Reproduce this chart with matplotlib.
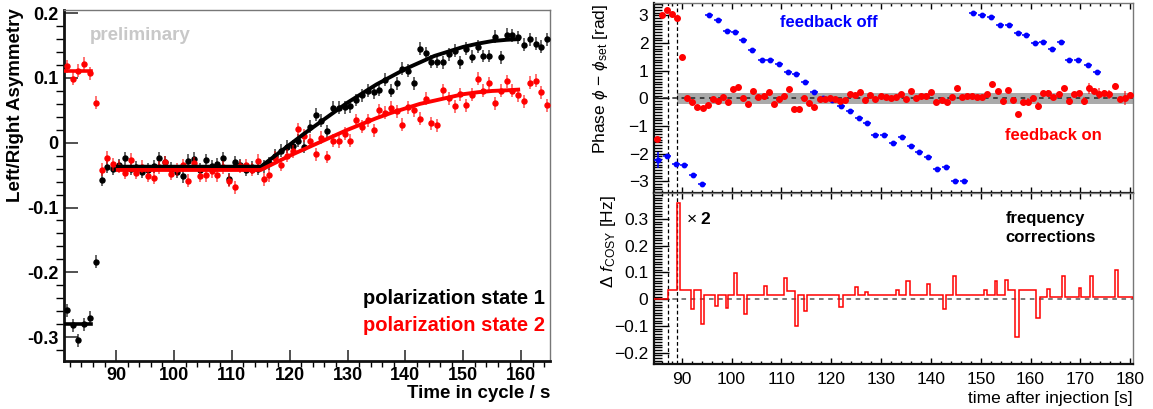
import numpy as np
import matplotlib
matplotlib.use("Agg")
import matplotlib.pyplot as plt
from matplotlib.ticker import MultipleLocator, FuncFormatter

plt.rcParams['font.family'] = ['Liberation Sans', 'DejaVu Sans']
plt.rcParams['mathtext.fontset'] = 'custom'
plt.rcParams['mathtext.rm'] = 'Liberation Sans'
plt.rcParams['mathtext.it'] = 'Liberation Sans:italic'
plt.rcParams['mathtext.bf'] = 'Liberation Sans:bold'

# ---------------- left panel: asymmetry vs time in cycle ----------------
t_cycle = np.arange(81.5, 165.0, 1.0)
asym_state1 = [
    -0.259, -0.282, -0.305, -0.280, -0.270, -0.184, -0.057, -0.037, -0.040, -0.035,
    -0.024, -0.040, -0.038, -0.045, -0.042, -0.036, -0.024, -0.030, -0.040, -0.045,
    -0.052, -0.028, -0.025, -0.042, -0.027, -0.036, -0.033, -0.024, -0.056, -0.030,
    -0.035, -0.042, -0.038, -0.040, -0.036, -0.032, -0.020, -0.012, -0.006, -0.005,
    0.003, -0.006, 0.025, 0.043, 0.034, 0.018, 0.054, 0.054, 0.055, 0.056,
    0.066, 0.073, 0.080, 0.078, 0.082, 0.097, 0.080, 0.092, 0.114, 0.111,
    0.092, 0.145, 0.138, 0.125, 0.125, 0.124, 0.137, 0.142, 0.124, 0.145,
    0.133, 0.148, 0.134, 0.134, 0.164, 0.132, 0.167, 0.166, 0.163, 0.151,
    0.160, 0.153, 0.148, 0.160]
asym_state2 = [
    0.118, 0.099, 0.111, 0.122, 0.107, 0.062, -0.042, -0.023, -0.033, -0.037,
    -0.046, -0.026, -0.046, -0.037, -0.051, -0.054, -0.038, -0.030, -0.048, -0.041,
    -0.035, -0.059, -0.032, -0.051, -0.050, -0.044, -0.050, -0.038, -0.059, -0.069,
    -0.036, -0.035, -0.042, -0.028, -0.056, -0.050, -0.023, -0.034, -0.020, -0.013,
    0.021, 0.011, 0.003, -0.018, 0.008, -0.022, 0.003, 0.002, 0.014, 0.003,
    0.035, 0.025, 0.035, 0.019, 0.050, 0.046, 0.054, 0.049, 0.028, 0.055,
    0.050, 0.037, 0.068, 0.030, 0.027, 0.081, 0.069, 0.056, 0.075, 0.058,
    0.074, 0.099, 0.080, 0.092, 0.061, 0.080, 0.095, 0.080, 0.073, 0.064,
    0.093, 0.096, 0.078, 0.058]
asym_err = 0.010

# fitted curves
pre_t = [81.0, 85.6]
pre_state1 = [-0.280, -0.280]
pre_state2 = [0.111, 0.111]
fit_t = [90.3, 115.0, 117.5, 120.0, 122.5, 125.0, 127.5, 130.0, 132.5, 135.0, 137.5,
         140.0, 142.5, 145.0, 147.5, 150.0, 152.5, 155.0, 157.5, 159.5]
fit_state1 = [-0.037, -0.037, -0.020, -0.003, 0.014, 0.030, 0.046, 0.062, 0.076, 0.090,
              0.102, 0.114, 0.124, 0.134, 0.141, 0.148, 0.153, 0.157, 0.159, 0.160]
fit_state2 = [-0.042, -0.042, -0.031, -0.020, -0.010, 0.000, 0.010, 0.020, 0.029, 0.038,
              0.046, 0.053, 0.060, 0.065, 0.070, 0.075, 0.078, 0.080, 0.081, 0.082]

# ---------------- right panel: phase feedback ----------------
t_on = np.linspace(85.0, 179.9, 94)
phase_on = [
    -1.48, 3.01, 3.21, 3.04, 2.89, 1.50, 0.00, -0.12, -0.30, -0.36,
    -0.24, -0.04, -0.09, 0.06, -0.12, 0.33, 0.42, 0.00, -0.21, 0.27,
    0.04, 0.08, 0.22, -0.21, -0.04, 0.10, 0.34, -0.40, -0.40, 0.00,
    -0.16, -0.30, -0.04, -0.01, 0.00, -0.04, -0.09, -0.06, 0.14, 0.12,
    0.21, -0.06, 0.12, -0.04, 0.10, 0.04,
    0.00, 0.04, 0.14, -0.01, 0.27, 0.00, 0.08, 0.08, 0.24, -0.12,
    -0.06, -0.13, 0.05, 0.36, 0.05, 0.10, 0.10, 0.04, 0.05, 0.14,
    0.52, 0.27, -0.10, 0.30, -0.06, -0.58, -0.12, -0.12, 0.02, -0.28,
    0.18, 0.18, 0.04, 0.14, 0.36, -0.10, 0.16, 0.18, -0.10, 0.36,
    0.26, 0.16, 0.20, 0.14, 0.44, -0.04, 0.00, 0.12]
phase_on_err = [0.05] * 70 + [0.08, 0.1, 0.06, 0.12, 0.1, 0.15, 0.1, 0.12, 0.06, 0.1,
                              0.1, 0.1, 0.08, 0.1, 0.15, 0.2, 0.12, 0.2, 0.1, 0.15,
                              0.12, 0.1, 0.25, 0.1]

t_off = [85.3, 87.1, 88.9, 90.5, 92.2, 94.0, 95.5, 97.3, 99.0, 100.7,
         102.4, 104.1, 106.1, 107.7, 109.6, 111.4, 112.9, 114.8, 116.6, 118.3,
         120.1, 121.9, 123.7, 125.5, 127.2, 128.8, 130.6, 132.4, 134.2, 136.0,
         137.7, 139.5, 141.3, 143.1, 144.9, 146.7, 148.4, 150.2, 152.1, 153.8,
         155.6, 157.4, 159.1, 160.8, 162.5, 164.3, 166.1, 167.8, 169.6, 171.5, 173.3]
phase_off = [-2.23, -2.08, -2.37, -2.43, -2.77, -3.10, 3.01, 2.83, 2.44, 2.40,
             2.10, 1.74, 1.40, 1.40, 1.24, 0.96, 0.88, 0.60, 0.24, 0.00,
             -0.06, -0.28, -0.45, -0.71, -0.88, -1.33, -1.33, -1.63, -1.42, -1.71,
             -1.96, -2.13, -2.56, -2.49, -2.99, -2.99, 3.10, 3.01, 2.95, 2.65,
             2.67, 2.38, 2.29, 2.01, 2.04, 1.77, 2.04, 1.40, 1.40, 1.20, 0.94]
phase_off_err = [0.3] + [0.05] * 50

# frequency corrections (step histogram)
freq_edges = [84.45, 87.33, 89.13, 89.67, 91.88, 92.55, 93.82, 94.49, 96.70, 97.37,
              98.84, 99.38, 100.58, 101.18, 102.59, 103.19, 106.61, 107.21, 110.55, 111.09,
              112.76, 113.30, 114.64, 115.24, 121.66, 122.27, 124.81, 125.35, 126.82, 127.29,
              133.05, 133.52, 135.06, 135.73, 139.21, 139.74, 142.42, 142.95, 144.43, 144.96,
              150.72, 151.25, 152.79, 153.33, 154.94, 155.47, 156.95, 157.61, 161.16, 161.83,
              163.30, 163.84, 166.31, 166.85, 169.66, 170.20, 171.87, 172.47, 177.02, 177.56,
              180.55]
freq_corr = [0.0, 0.035, 0.36, 0.035, -0.037, 0.035, -0.094, 0.016, -0.024, 0.016,
             -0.034, 0.016, 0.098, 0.016, -0.055, 0.016, 0.050, 0.016, 0.079, 0.030,
             -0.101, 0.016, -0.044, 0.016, -0.030, 0.016, 0.045, 0.016, 0.026, 0.016,
             0.035, 0.016, 0.069, 0.016, 0.058, 0.016, -0.038, 0.016, 0.088, 0.016,
             0.035, 0.016, 0.067, 0.016, 0.073, 0.033, -0.141, 0.033, -0.072, 0.010,
             0.039, 0.010, 0.088, 0.010, 0.041, 0.010, 0.088, 0.010, 0.108, 0.010]
feedback_start = [87.33, 89.13]

W, H = 1153, 409
fig = plt.figure(figsize=(W / 100, H / 100), dpi=100)


def frac(x0, y0, x1, y1):
    return [x0 / W, 1 - y1 / H, (x1 - x0) / W, (y1 - y0) / H]


def root_frame(ax, lw_main=1.8):
    for s in ['left', 'bottom']:
        ax.spines[s].set_linewidth(lw_main)
        ax.spines[s].set_color('#111111')
    for s in ['top', 'right']:
        ax.spines[s].set_linewidth(1.0)
        ax.spines[s].set_color('#777777')


def unicode_fmt(v, p):
    s = '%g' % round(v, 3)
    return s.replace('-', '\u2212')


# ---- left ----
ax = fig.add_axes(frac(64, 10, 550, 361))
ax.errorbar(t_cycle, asym_state1, yerr=asym_err, fmt='o', color='black', ms=3.6,
            ecolor=(0, 0, 0, 0.6), elinewidth=1.4, capsize=0, zorder=3)
ax.errorbar(t_cycle, asym_state2, yerr=asym_err, fmt='o', color='red', ms=3.6,
            ecolor=(1, 0, 0, 0.55), elinewidth=1.4, capsize=0, zorder=4)
ax.plot(pre_t, pre_state1, color='black', lw=2.6, zorder=5)
ax.plot(pre_t, pre_state2, color='red', lw=2.6, zorder=5)
ax.plot(fit_t, fit_state1, color='black', lw=2.8, zorder=5)
ax.plot(fit_t, fit_state2, color='red', lw=2.8, zorder=5)
ax.set_xlim(81, 165)
ax.set_ylim(-0.337, 0.205)
ax.xaxis.set_major_locator(MultipleLocator(10))
ax.xaxis.set_minor_locator(MultipleLocator(2))
ax.yaxis.set_major_locator(MultipleLocator(0.1))
ax.yaxis.set_minor_locator(MultipleLocator(0.02))
ax.yaxis.set_major_formatter(FuncFormatter(lambda v, p: '%g' % round(v, 3)))
ax.tick_params(direction='in', width=1.1, color='#222222', labelsize=13)
ax.tick_params(axis='y', which='major', length=10, pad=4)
ax.tick_params(axis='y', which='minor', length=5.5, width=1.0)
ax.tick_params(axis='x', which='major', length=8, pad=4)
ax.tick_params(axis='x', which='minor', length=4, width=1.0)
for lab in ax.get_xticklabels() + ax.get_yticklabels():
    lab.set_fontweight('bold')
root_frame(ax, 2.0)
ax.text(0.0535, 0.926, 'preliminary', transform=ax.transAxes, color='#c8c8c8',
        fontsize=13.5, fontweight='bold', ha='left', va='center')
ax.text(0.99, 0.177, 'polarization state 1', transform=ax.transAxes, color='black',
        fontsize=14.5, fontweight='bold', ha='right', va='center')
ax.text(0.99, 0.10, 'polarization state 2', transform=ax.transAxes, color='red',
        fontsize=14.5, fontweight='bold', ha='right', va='center')
fig.text(16 / W, 1 - 8 / H, 'Left/Right Asymmetry', rotation=90, ha='center', va='top',
         fontsize=13.5, fontweight='bold')
fig.text(550 / W, 1 - 394 / H, 'Time in cycle / s', ha='right', va='center',
         fontsize=13.5, fontweight='bold')

# ---- right top ----
ax1 = fig.add_axes(frac(654, 3, 1133, 193))
ax1.axhspan(-0.2, 0.2, xmin=(feedback_start[1] - 84.45) / 96.1, xmax=1,
            color='#aaaaaa', lw=0, zorder=1)
ax1.axhline(0, color='#222222', lw=1.1, ls=(0, (3, 3)), zorder=2)
for xv in feedback_start:
    ax1.axvline(xv, color='black', lw=0.9, ls=(0, (3, 2)), zorder=2)
ax1.errorbar(t_off, phase_off, yerr=phase_off_err, xerr=0.8, fmt='o', color='blue',
             ms=3.2, elinewidth=1.1, capsize=0, zorder=3)
ax1.errorbar(t_on, phase_on, yerr=phase_on_err, fmt='o', color='red', ms=4.0,
             ecolor=(1, 0, 0, 0.7), elinewidth=1.1, capsize=0, zorder=4)
ax1.set_xlim(84.45, 180.55)
ax1.set_ylim(-3.43, 3.45)
ax1.yaxis.set_major_locator(MultipleLocator(1))
ax1.yaxis.set_minor_locator(MultipleLocator(0.1))
ax1.yaxis.set_major_formatter(FuncFormatter(unicode_fmt))
ax1.xaxis.set_major_locator(MultipleLocator(10))
ax1.xaxis.set_minor_locator(MultipleLocator(2))
ax1.tick_params(direction='in', labelsize=12.5, width=1.0, top=True, which='both')
ax1.tick_params(axis='y', which='major', length=11, pad=4)
ax1.tick_params(axis='y', which='minor', length=6)
ax1.tick_params(axis='x', which='major', length=4)
ax1.tick_params(axis='x', which='minor', length=2)
ax1.tick_params(axis='x', labelbottom=False)
root_frame(ax1, 1.6)
ax1.text(0.263, 0.895, 'feedback off', transform=ax1.transAxes, color='blue',
         fontsize=12, fontweight='bold', ha='left', va='center')
ax1.text(0.733, 0.30, 'feedback on', transform=ax1.transAxes, color='red',
         fontsize=12, fontweight='bold', ha='left', va='center')
fig.text(601 / W, 1 - 4 / H, r'Phase $\phi$ $-$ $\phi_{\rm set}$ [rad]', rotation=90,
         ha='center', va='top', fontsize=12.5)

# ---- right bottom ----
ax2 = fig.add_axes(frac(654, 193, 1133, 364))
ax2.axhline(0, color='#555555', lw=1.1, ls=(0, (3, 3)), zorder=1)
for xv in feedback_start:
    ax2.axvline(xv, color='black', lw=0.9, ls=(0, (3, 2)), zorder=2)
ax2.stairs(freq_corr, freq_edges, color='red', lw=1.1, zorder=3)
ax2.set_xlim(84.45, 180.55)
ax2.set_ylim(-0.243, 0.398)
ax2.xaxis.set_major_locator(MultipleLocator(10))
ax2.xaxis.set_minor_locator(MultipleLocator(2))
ax2.yaxis.set_major_locator(MultipleLocator(0.1))
ax2.yaxis.set_minor_locator(MultipleLocator(0.01))
ax2.yaxis.set_major_formatter(FuncFormatter(unicode_fmt))
ax2.tick_params(direction='in', labelsize=12.5, width=1.0, top=True, which='both')
ax2.tick_params(axis='y', which='major', length=11, pad=4)
ax2.tick_params(axis='y', which='minor', length=6)
ax2.tick_params(axis='x', which='major', length=4, pad=5.5)
ax2.tick_params(axis='x', which='minor', length=2)
root_frame(ax2, 1.6)
ax2.text(0.067, 0.848, r'$\times$ $\mathbf{2}$', transform=ax2.transAxes,
         fontsize=12.5, ha='left', va='center')
ax2.text(0.734, 0.797, 'frequency\ncorrections', transform=ax2.transAxes,
         fontsize=12, fontweight='bold', ha='left', va='center', linespacing=1.3)
fig.text(608 / W, 1 - 195 / H, r'$\mathit{\Delta}$ $f_{\rm COSY}$ [Hz]', rotation=90,
         ha='center', va='top', fontsize=12.5)
fig.text(1133 / W, 1 - 398 / H, 'time after injection [s]', ha='right', va='center',
         fontsize=12.5)

fig.savefig('out.png', dpi=100)
